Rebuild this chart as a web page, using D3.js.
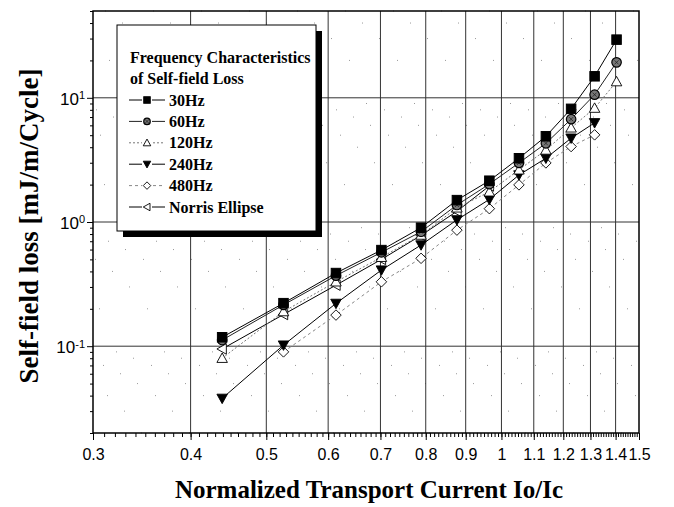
<!DOCTYPE html>
<html>
<head>
<meta charset="utf-8">
<script src="https://cdn.jsdelivr.net/npm/d3@7"></script>
<style>
  body { margin: 0; background: #fff; }
  svg { display: block; }
</style>
</head>
<body>
<div id="chart"></div>
<script>
// normalized current Io/Ic
var current = [0.439, 0.526, 0.614, 0.702, 0.789, 0.877, 0.965, 1.053, 1.140, 1.228, 1.316, 1.404];
// self-field loss [mJ/m/Cycle]
var loss30  = [0.118, 0.222, 0.388, 0.594, 0.90, 1.50, 2.15, 3.26, 4.9, 8.15, 14.9, 29.4];
var loss60  = [0.112, 0.215, 0.370, 0.570, 0.835, 1.37, 2.02, 2.99, 4.3, 6.73, 10.6, 19.3];
var loss120 = [0.080, 0.190, 0.330, 0.520, 0.785, 1.30, 1.75, 2.63, 3.8, 5.73, 8.26, 13.5];
var loss240 = [0.038, 0.102, 0.221, 0.410, 0.653, 1.04, 1.52, 2.39, 3.26, 4.73, 6.29];
var loss480 = [null, 0.090, 0.178, 0.330, 0.510, 0.86, 1.28, 1.99, 2.99, 4.05, 5.03];
var lossNorris = [0.095, 0.180, 0.310, 0.500, 0.780, 1.22, 1.95];

var xTickValues = [0.3, 0.4, 0.5, 0.6, 0.7, 0.8, 0.9, 1, 1.1, 1.2, 1.3, 1.4, 1.5];
var xTickLabels = ["0.3", "0.4", "0.5", "0.6", "0.7", "0.8", "0.9", "1", "1.1", "1.2", "1.3", "1.4", "1.5"];
var yTickValues = [0.1, 1, 10];
var yTickExponents = ["-1", "0", "1"];

var legendTitle = ["Frequency Characteristics", "of Self-field Loss"];

var series = [
    {name: "30Hz", values: loss30, symbol: "square", fill: "#000", dash: null, color: "#000"},
    {name: "60Hz", values: loss60, symbol: "circle", fill: "#777", dash: null, color: "#222"},
    {name: "120Hz", values: loss120, symbol: "up", fill: "#fff", dash: "2,2", color: "#777"},
    {name: "240Hz", values: loss240, symbol: "down", fill: "#000", dash: null, color: "#000"},
    {name: "480Hz", values: loss480, symbol: "diamond", fill: "#fff", dash: "3,3", color: "#888"},
    {name: "Norris Ellipse", values: lossNorris, symbol: "left", fill: "#fff", dash: null, color: "#000"}
];

var width = 674;
var height = 507;
var plot = {left: 93, right: 639, top: 11, bottom: 433};

var svg = d3.select("#chart")
    .append("svg")
    .attr("width", width)
    .attr("height", height);

var xScale = d3.scaleLog()
    .domain([0.3, 1.5])
    .range([plot.left, plot.right]);
var yScale = d3.scaleLog()
    .domain([0.02, 50])
    .range([plot.bottom, plot.top]);

// minor values
var xMinor = d3.range(30, 151).map(function (d) { return d / 100; });
var yMinor = [];
[0.01, 0.1, 1, 10].forEach(function (dec) {
    for (var k = 2; k <= 9; k++) {
        var v = k * dec;
        if (v >= 0.02 && v <= 50) yMinor.push(v);
    }
});

// dotted minor grid (sparse dots, staggered)
svg.append("g")
    .selectAll("line")
    .data(yMinor)
    .enter().append("line")
    .attr("x1", plot.left)
    .attr("x2", plot.right)
    .attr("y1", function (d) { return yScale(d); })
    .attr("y2", function (d) { return yScale(d); })
    .attr("stroke", "#999")
    .attr("stroke-width", 1)
    .attr("stroke-dasharray", "1,47")
    .attr("stroke-dashoffset", function (d, i) { return (i * 17) % 47; });

// major grid
svg.append("g")
    .selectAll("line")
    .data(xTickValues.slice(1, -1))
    .enter().append("line")
    .attr("x1", function (d) { return xScale(d); })
    .attr("x2", function (d) { return xScale(d); })
    .attr("y1", plot.top)
    .attr("y2", plot.bottom)
    .attr("stroke", "#333")
    .attr("stroke-width", 1);
svg.append("g")
    .selectAll("line")
    .data(yTickValues)
    .enter().append("line")
    .attr("x1", plot.left)
    .attr("x2", plot.right)
    .attr("y1", function (d) { return yScale(d); })
    .attr("y2", function (d) { return yScale(d); })
    .attr("stroke", "#333")
    .attr("stroke-width", 1);

// x axis
var xAxis = d3.axisBottom(xScale)
    .tickValues(xMinor)
    .tickSize(4)
    .tickFormat("");
svg.append("g")
    .attr("transform", "translate(0," + plot.bottom + ")")
    .call(xAxis)
    .call(function (g) { g.select(".domain").remove(); });
var xMajor = d3.axisBottom(xScale)
    .tickValues(xTickValues)
    .tickSize(7)
    .tickPadding(9)
    .tickFormat(function (d, i) { return xTickLabels[i]; });
svg.append("g")
    .attr("transform", "translate(0," + plot.bottom + ")")
    .call(xMajor)
    .call(function (g) {
        g.select(".domain").remove();
        g.selectAll("text")
            .attr("font-family", "Liberation Sans, Arial, sans-serif")
            .attr("font-size", 16)
            .attr("fill", "#000");
    });

// y axis
var yAxis = d3.axisLeft(yScale)
    .tickValues(yMinor)
    .tickSize(3)
    .tickFormat("");
svg.append("g")
    .attr("transform", "translate(" + plot.left + ",0)")
    .call(yAxis)
    .call(function (g) { g.select(".domain").remove(); });
var yMajor = d3.axisLeft(yScale)
    .tickValues(yTickValues)
    .tickSize(6)
    .tickFormat("");
var gy = svg.append("g")
    .attr("transform", "translate(" + plot.left + ",0)")
    .call(yMajor)
    .call(function (g) { g.select(".domain").remove(); });
gy.selectAll(".tick")
    .append("text")
    .attr("x", -8)
    .attr("dy", "0.38em")
    .attr("text-anchor", "end")
    .attr("fill", "#000")
    .attr("font-family", "Liberation Sans, Arial, sans-serif")
    .attr("font-size", 17)
    .each(function (d, i) {
        var t = d3.select(this);
        t.append("tspan").text("10");
        t.append("tspan")
            .attr("dy", "-0.5em")
            .attr("font-size", 11)
            .text(yTickExponents[i]);
    });

// frame
svg.append("rect")
    .attr("x", plot.left)
    .attr("y", plot.top)
    .attr("width", plot.right - plot.left)
    .attr("height", plot.bottom - plot.top)
    .attr("fill", "none")
    .attr("stroke", "#000")
    .attr("stroke-width", 1.5);

// marker shapes
function drawMarker(g, symbol, fill, size) {
    var s = size;
    if (symbol === "square") {
        g.append("rect").attr("x", -s / 2).attr("y", -s / 2).attr("width", s).attr("height", s)
            .attr("fill", fill).attr("stroke", "#000");
    } else if (symbol === "circle") {
        g.append("circle").attr("r", s / 2).attr("fill", fill).attr("stroke", "#000").attr("stroke-width", 1.2);
        g.append("path").attr("d", "M-2,-2L2,2M-2,2L2,-2").attr("stroke", "#222").attr("stroke-width", 0.8);
    } else {
        var pts;
        var h = s / 2 + 0.5;
        if (symbol === "up") pts = [[0, -h], [h, h * 0.8], [-h, h * 0.8]];
        if (symbol === "down") pts = [[0, h], [h, -h * 0.8], [-h, -h * 0.8]];
        if (symbol === "left") pts = [[-h, 0], [h * 0.8, -h], [h * 0.8, h]];
        if (symbol === "diamond") pts = [[0, -h], [h, 0], [0, h], [-h, 0]];
        g.append("path").attr("d", "M" + pts.join("L") + "Z")
            .attr("fill", fill).attr("stroke", "#000").attr("stroke-width", 0.9);
    }
}

// series
var line = d3.line()
    .defined(function (d) { return d[1] != null; })
    .x(function (d) { return xScale(d[0]); })
    .y(function (d) { return yScale(d[1]); });

series.slice().reverse().forEach(function (s) {
    var pts = s.values.map(function (v, i) { return [current[i], v]; });
    svg.append("path")
        .datum(pts)
        .attr("d", line)
        .attr("fill", "none")
        .attr("stroke", s.color)
        .attr("stroke-width", 1)
        .attr("stroke-dasharray", s.dash);
    svg.append("g")
        .selectAll("g")
        .data(pts.filter(function (d) { return d[1] != null; }))
        .enter().append("g")
        .attr("transform", function (d) { return "translate(" + xScale(d[0]) + "," + yScale(d[1]) + ")"; })
        .each(function () { drawMarker(d3.select(this), s.symbol, s.fill, 9.5); });
});

// legend
var legend = svg.append("g");
legend.append("rect")
    .attr("x", 123).attr("y", 31).attr("width", 199).attr("height", 206)
    .attr("fill", "#000");
legend.append("rect")
    .attr("x", 117).attr("y", 25).attr("width", 199).attr("height", 206)
    .attr("fill", "#fff").attr("stroke", "#000").attr("stroke-width", 1);
legend.selectAll("text.title")
    .data(legendTitle)
    .enter().append("text")
    .attr("class", "title")
    .attr("x", 130)
    .attr("y", function (d, i) { return 63 + i * 21; })
    .attr("font-family", "Liberation Serif, Times New Roman, serif")
    .attr("font-weight", "bold")
    .attr("font-size", 16)
    .text(function (d) { return d; });
var items = legend.selectAll("g.item")
    .data(series)
    .enter().append("g")
    .attr("class", "item")
    .attr("transform", function (d, i) { return "translate(0," + (100 + i * 21.4) + ")"; });
items.append("line")
    .attr("x1", 129).attr("x2", 165)
    .attr("stroke", function (d) { return d.color; })
    .attr("stroke-dasharray", function (d) { return d.dash; });
items.each(function (d) {
    var g = d3.select(this).append("g").attr("transform", "translate(147,0)");
    g.append("rect").attr("x", -5).attr("y", -5).attr("width", 10).attr("height", 10).attr("fill", "#fff");
    drawMarker(g, d.symbol, d.fill, 6.5);
});
items.append("text")
    .attr("x", 169)
    .attr("dy", "0.35em")
    .attr("font-family", "Liberation Serif, Times New Roman, serif")
    .attr("font-weight", "bold")
    .attr("font-size", 16)
    .text(function (d) { return d.name; });

// axis titles
svg.append("text")
    .attr("x", 369)
    .attr("y", 498)
    .attr("text-anchor", "middle")
    .attr("font-family", "Liberation Serif, Times New Roman, serif")
    .attr("font-weight", "bold")
    .attr("font-size", 25)
    .text("Normalized Transport Current Io/Ic");
svg.append("text")
    .attr("transform", "translate(38,226) rotate(-90)")
    .attr("text-anchor", "middle")
    .attr("font-family", "Liberation Serif, Times New Roman, serif")
    .attr("font-weight", "bold")
    .attr("font-size", 27)
    .text("Self-field loss [mJ/m/Cycle]");
</script>
</body>
</html>
